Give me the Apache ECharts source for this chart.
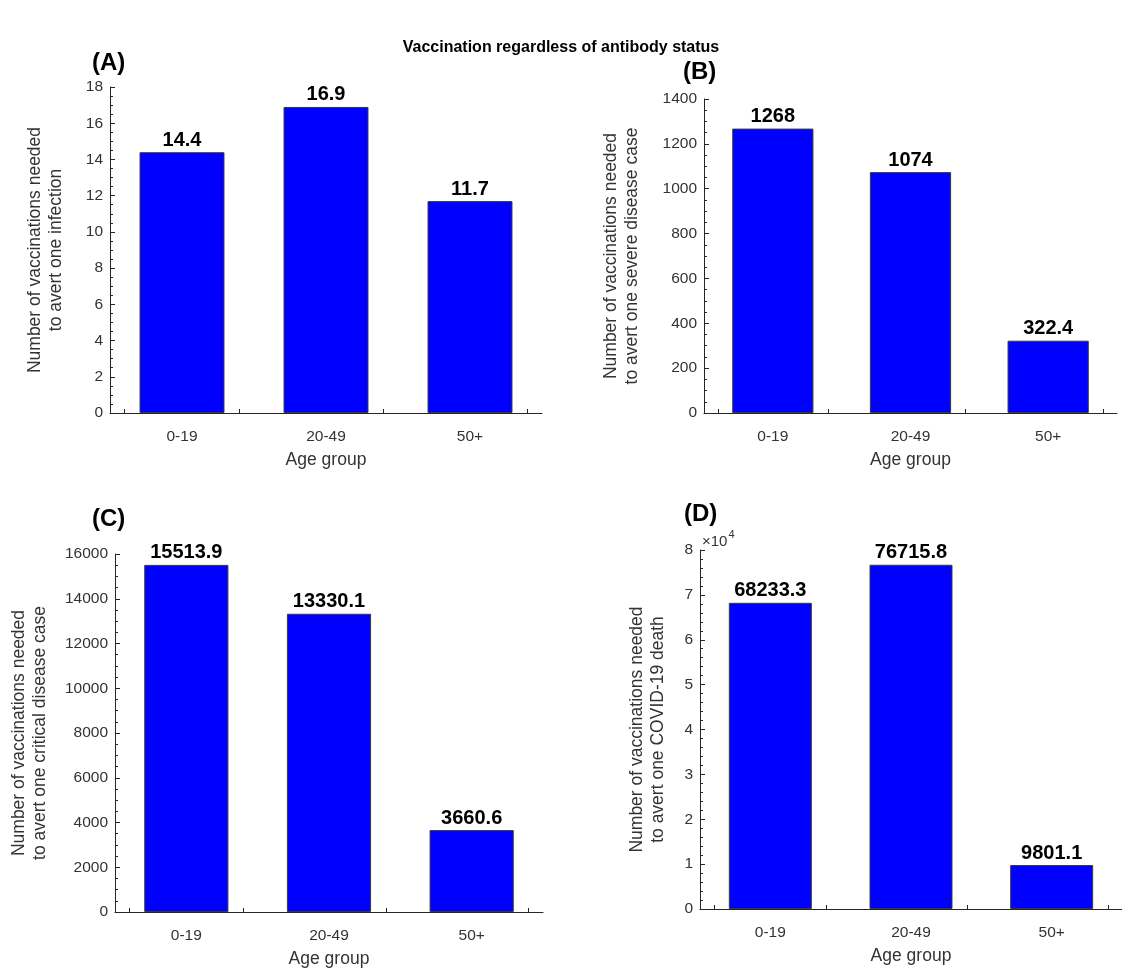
<!DOCTYPE html>
<html>
<head>
<meta charset="utf-8">
<script src="https://cdn.jsdelivr.net/npm/echarts@6/dist/echarts.min.js"></script>
<style>
html,body{margin:0;padding:0;background:#fff;}
#chart{width:1122px;height:970px;}
</style>
</head>
<body>
<div id="chart"></div>
<script>
// ---- data ----
const categories = ['0-19', '20-49', '50+'];
const infectionValues = [14.4, 16.9, 11.7];
const severeValues = [1268, 1074, 322.4];
const criticalValues = [15513.9, 13330.1, 3660.6];
const deathValues = [68233.3, 76715.8, 9801.1];
const yMaxList = [18, 1400, 16000, 80000];
const yIntervalList = [2, 200, 2000, 10000];
const xMinorTicks = [0.6, 1.4, 2.4, 3.4];
const yNames = [
  'Number of vaccinations needed\nto avert one infection',
  'Number of vaccinations needed\nto avert one severe disease case',
  'Number of vaccinations needed\nto avert one critical disease case',
  'Number of vaccinations needed\nto avert one COVID-19 death'
];
const panelLetters = ['(A)', '(B)', '(C)', '(D)'];
const xName = 'Age group';
const mainTitle = 'Vaccination regardless of antibody status';

// ---- layout ----
const FONT = '"Liberation Sans", Arial, Helvetica, sans-serif';
const AXIS_COLOR = '#262626';
const TEXT_COLOR = '#333333';
const grids = [
  {left: 110, top: 87, width: 432, height: 326},
  {left: 704, top: 99, width: 413, height: 314},
  {left: 115, top: 554, width: 428, height: 358},
  {left: 700, top: 550, width: 428, height: 359}
];
const nameGaps = [43, 61, 64, 31];
const letterPos = [[92, 51], [683, 60], [92, 507], [684, 502]];
const seriesData = [infectionValues, severeValues, criticalValues, deathValues];

const catAxes = grids.map((g, i) => ({
  type: 'category', gridIndex: i, data: categories,
  name: xName, nameLocation: 'middle', nameGap: 38,
  nameTextStyle: {fontFamily: FONT, fontSize: 17.5, color: TEXT_COLOR},
  axisLine: {show: true, lineStyle: {color: AXIS_COLOR, width: 1}},
  axisTick: {show: false},
  axisLabel: {fontFamily: FONT, fontSize: 15.5, color: TEXT_COLOR, margin: 16},
  splitLine: {show: false}
}));
const tickAxes = grids.map((g, i) => ({
  type: 'value', gridIndex: i, position: 'bottom', min: 0.5, max: 3.5,
  axisLine: {show: false},
  axisLabel: {show: false},
  splitLine: {show: false},
  axisTick: {show: true, inside: true, length: 4, customValues: xMinorTicks,
             lineStyle: {color: AXIS_COLOR}}
}));

const option = {
  backgroundColor: '#ffffff',
  animation: false,
  textStyle: {fontFamily: FONT},
  title: [
    {text: mainTitle, left: 'center', top: 40, padding: 0,
     textStyle: {fontFamily: FONT, fontWeight: 'bold', fontSize: 16, color: '#000'}}
  ].concat(panelLetters.map((t, i) => ({
    text: t, left: letterPos[i][0], top: letterPos[i][1], padding: 0,
    textStyle: {fontFamily: FONT, fontWeight: 'bold', fontSize: 24, color: '#000'}
  }))).concat([
    {text: '{a|×10}{b|4}', left: 702, top: 529, padding: 0,
     textStyle: {fontWeight: 'normal', rich: {
       a: {fontFamily: FONT, fontWeight: 'normal', fontSize: 15, color: TEXT_COLOR, verticalAlign: 'bottom', lineHeight: 20},
       b: {fontFamily: FONT, fontWeight: 'normal', fontSize: 11, color: TEXT_COLOR, verticalAlign: 'top', lineHeight: 20, padding: [0, 0, 8, 1]}
     }}}
  ]),
  grid: grids.map(g => Object.assign({containLabel: false}, g)),
  xAxis: catAxes.concat(tickAxes),
  yAxis: grids.map((g, i) => ({
    type: 'value', gridIndex: i, min: 0, max: yMaxList[i], interval: yIntervalList[i],
    name: yNames[i], nameLocation: 'middle', nameGap: nameGaps[i], nameRotate: 90,
    nameTextStyle: {fontFamily: FONT, fontSize: 17.5, color: TEXT_COLOR, lineHeight: 21},
    axisLine: {show: true, lineStyle: {color: AXIS_COLOR, width: 1}},
    axisTick: {show: true, inside: true, length: 5, lineStyle: {color: AXIS_COLOR}},
    minorTick: {show: true, splitNumber: i === 3 ? 5 : 4, length: 3, lineStyle: {color: AXIS_COLOR}},
    axisLabel: {fontFamily: FONT, fontSize: 15.5, color: TEXT_COLOR, margin: 7,
      formatter: i === 3 ? (v => String(v / 10000)) : (v => String(v))},
    splitLine: {show: false}
  })),
  series: seriesData.map((d, i) => ({
    type: 'bar', xAxisIndex: i, yAxisIndex: i, data: d, barWidth: '59%',
    itemStyle: {color: '#0000ff', borderColor: '#3a3a3a', borderWidth: 1},
    label: {show: true, position: 'top', distance: 2, formatter: '{c}',
      fontFamily: FONT, fontWeight: 'bold', fontSize: 20, color: '#000'}
  }))
};

const chart = echarts.init(document.getElementById('chart'), null, {renderer: 'canvas'});
chart.setOption(option);
</script>
</body>
</html>
